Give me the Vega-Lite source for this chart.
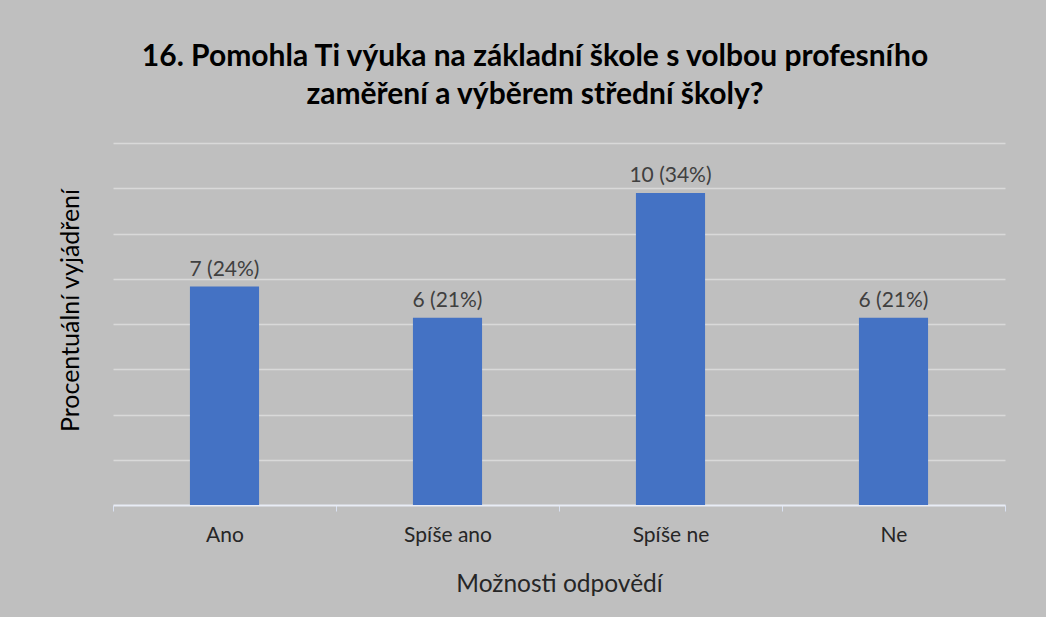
{
  "$schema": "https://vega.github.io/schema/vega-lite/v6.json",
  "autosize": "none",
  "width": 892,
  "height": 362,
  "padding": {"left": 113, "top": 143, "right": 41, "bottom": 112},
  "background": "#bfbfbf",
  "config": {
    "view": {"stroke": null},
    "font": "Lato"
  },
  "title": {
    "text": ["16. Pomohla Ti výuka na základní škole s volbou profesního", "zaměření a výběrem střední školy?"],
    "font": "Lato",
    "fontSize": 30,
    "fontWeight": "bold",
    "color": "#000000",
    "anchor": "middle",
    "dx": -24,
    "offset": 33,
    "lineHeight": 38
  },
  "data": {
    "values": [
      {"odpoved": "Ano", "pocet": 7, "procento": 24.14, "popisek": "7 (24%)"},
      {"odpoved": "Spíše ano", "pocet": 6, "procento": 20.69, "popisek": "6 (21%)"},
      {"odpoved": "Spíše ne", "pocet": 10, "procento": 34.48, "popisek": "10 (34%)"},
      {"odpoved": "Ne", "pocet": 6, "procento": 20.69, "popisek": "6 (21%)"}
    ]
  },
  "encoding": {
    "x": {
      "field": "odpoved",
      "type": "nominal",
      "sort": null,
      "scale": {"paddingInner": 0, "paddingOuter": 0},
      "axis": {
        "title": "Možnosti odpovědí",
        "titleFont": "Lato",
        "titleFontSize": 24.5,
        "titleFontWeight": "normal",
        "titleColor": "#262626",
        "titlePadding": 27,
        "labelAngle": 0,
        "labelFont": "Lato",
        "labelFontSize": 21,
        "labelColor": "#262626",
        "labelPadding": 13,
        "tickBand": "extent",
        "tickSize": 6,
        "tickColor": "#d9e1f2",
        "domainColor": "#e8ecf5",
        "domainWidth": 2
      }
    },
    "y": {
      "field": "procento",
      "type": "quantitative",
      "scale": {"domain": [0, 40]},
      "axis": {
        "title": "Procentuální vyjádření",
        "titleFont": "Lato",
        "titleFontSize": 25,
        "titleFontWeight": "normal",
        "titleColor": "#000000",
        "titlePadding": 30,
        "titleY": 167,
        "labels": false,
        "ticks": false,
        "domain": false,
        "values": [5, 10, 15, 20, 25, 30, 35, 40],
        "gridColor": "#d9d9d9",
        "gridWidth": 1.3
      }
    }
  },
  "layer": [
    {
      "mark": {"type": "bar", "color": "#4472c4", "width": {"band": 0.31}}
    },
    {
      "mark": {"type": "text", "baseline": "bottom", "dy": -7, "fontSize": 21, "color": "#404040", "font": "Lato"},
      "encoding": {"text": {"field": "popisek"}}
    }
  ]
}
